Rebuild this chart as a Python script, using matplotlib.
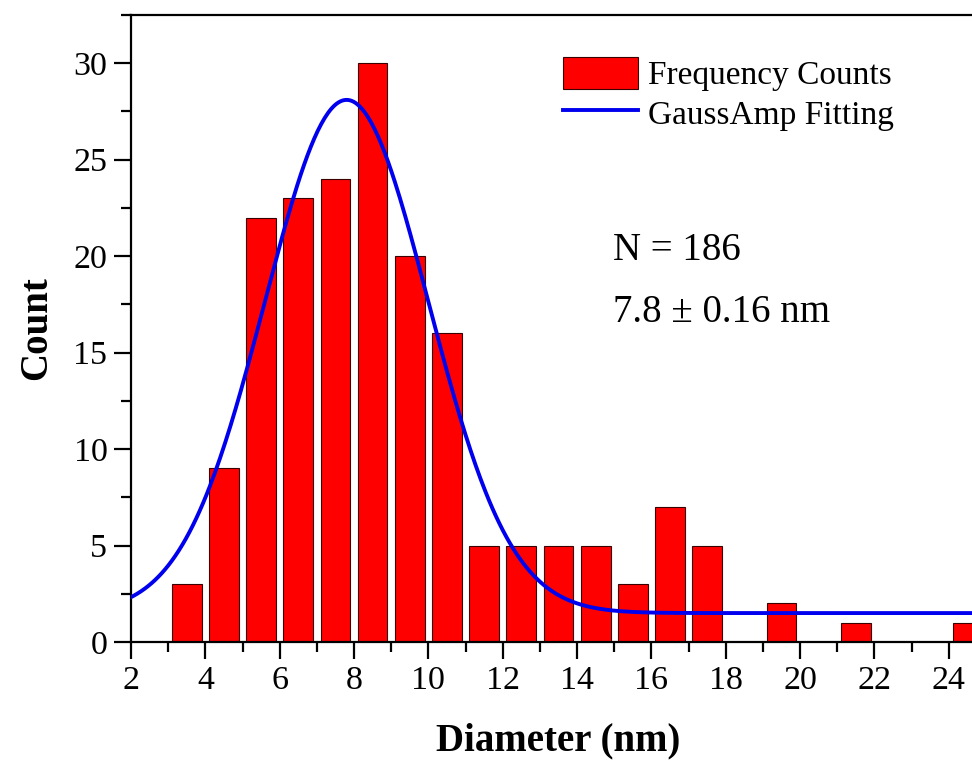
import numpy as np
import matplotlib
matplotlib.use("Agg")
import matplotlib.pyplot as plt
from matplotlib.ticker import MultipleLocator

# Data
bin_centers = [3.5, 4.5, 5.5, 6.5, 7.5, 8.5, 9.5, 10.5, 11.5, 12.5, 13.5, 14.5,
               15.5, 16.5, 17.5, 18.5, 19.5, 20.5, 21.5, 22.5, 23.5, 24.5]
counts = [3, 9, 22, 23, 24, 30, 20, 16, 5, 5, 5, 5,
          3, 7, 5, 0, 2, 0, 1, 0, 0, 1]
# GaussAmp fit parameters (y0, A, xc, w)
fit_y0 = 1.5
fit_A = 26.6
fit_xc = 7.8
fit_w = 2.2
x_ticks = [2, 4, 6, 8, 10, 12, 14, 16, 18, 20, 22, 24]
y_ticks = [0, 5, 10, 15, 20, 25, 30]

plt.rcParams['font.family'] = ['Liberation Serif', 'DejaVu Serif']

fig = plt.figure(figsize=(9.72, 7.63), dpi=100)
ax = fig.add_axes([131/972, 1-642/763, (986-131)/972, (642-15)/763])

bars = ax.bar(bin_centers, counts, width=0.8, color='#ff0000', edgecolor='#3a0000',
              linewidth=0.8, zorder=2)

xf = np.linspace(2, 25, 500)
yf = fit_y0 + fit_A * np.exp(-(xf - fit_xc) ** 2 / (2 * fit_w ** 2))
line, = ax.plot(xf, yf, color='#0000ee', linewidth=2.8, zorder=3)

ax.set_xlim(2, 25)
ax.set_ylim(0, 32.5)
ax.set_xticks(x_ticks)
ax.set_yticks(y_ticks)
ax.xaxis.set_minor_locator(MultipleLocator(1))
ax.yaxis.set_minor_locator(MultipleLocator(2.5))
ax.tick_params(which='major', direction='out', length=12, width=1.6, labelsize=24.5,
               top=False, right=False, pad=5)
ax.tick_params(which='minor', direction='out', length=7, width=1.6, top=False, right=False)
for s in ax.spines.values():
    s.set_linewidth(1.6)
ax.spines['right'].set_visible(False)

ax.set_xlabel('Diameter (nm)', fontsize=28, fontweight='bold', labelpad=19)
ax.set_ylabel('Count', fontsize=28, fontweight='bold', labelpad=13)

fig.legend([bars, line], ['Frequency Counts', 'GaussAmp Fitting'],
           loc='upper left', bbox_to_anchor=(563/972, 1-57/763),
           bbox_transform=fig.transFigure, frameon=False,
           fontsize=24, handlelength=2.25, handleheight=1.1, handletextpad=0.3,
           labelspacing=0.15, borderpad=0, borderaxespad=0)

fig.text(613/972, 1-250/763, 'N = 186', fontsize=28, va='center', ha='left')
fig.text(613/972, 1-313/763, '7.8 \u00b1 0.16 nm', fontsize=28, va='center', ha='left')

fig.savefig('out.png', dpi=100)
